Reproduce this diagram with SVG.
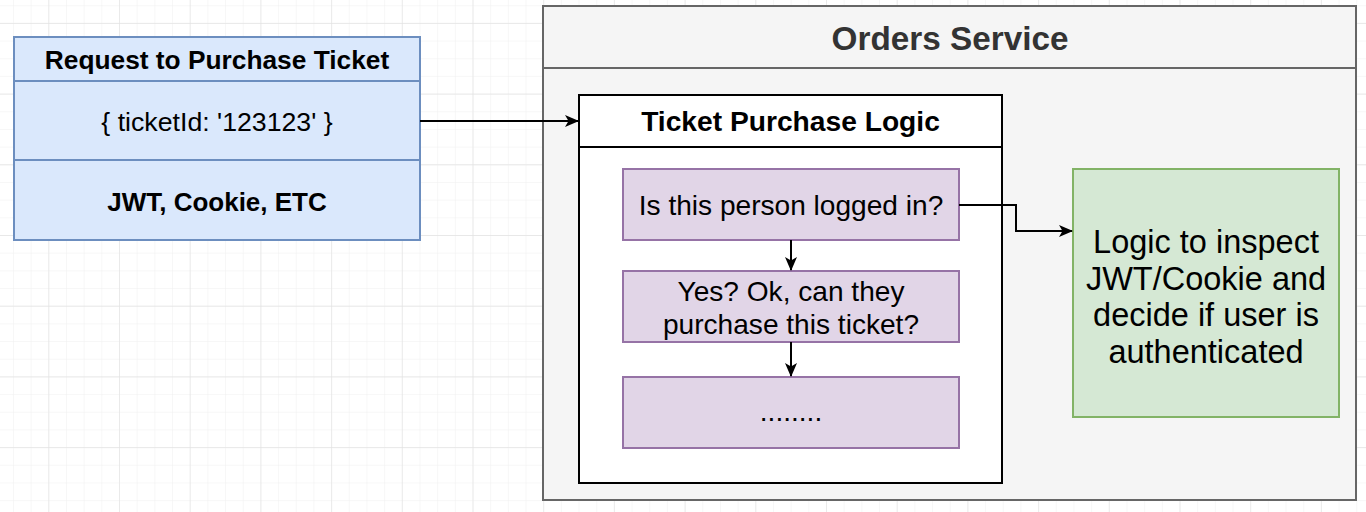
<svg xmlns="http://www.w3.org/2000/svg" width="1366" height="512" viewBox="0 0 1366 512">
  <style>
    text { font-family: "Liberation Sans", Arial, sans-serif; fill: #000; text-anchor: middle; }
    .b { font-weight: bold; }
    .blue { fill: #dae8fc; stroke: #6c8ebf; stroke-width: 2; }
    .purple { fill: #e1d5e7; stroke: #9673a6; stroke-width: 2; }
    .green { fill: #d5e8d4; stroke: #82b366; stroke-width: 2; }
    .edge { fill: none; stroke: #000; stroke-width: 2; }
  </style>
  <defs>
    <pattern id="minor" width="17.675" height="17.675" patternUnits="userSpaceOnUse" x="48.3" y="22.9">
      <path d="M 0 0 L 17.675 0 M 0 0 L 0 17.675" fill="none" stroke="#efefef" stroke-width="1"/>
    </pattern>
    <pattern id="major" width="70.7" height="70.7" patternUnits="userSpaceOnUse" x="48.3" y="22.9">
      <path d="M 0 0 L 70.7 0 M 0 0 L 0 70.7" fill="none" stroke="#e3e3e3" stroke-width="1.3"/>
    </pattern>
    <marker id="arrow" viewBox="0 0 14 14" refX="13" refY="7" markerWidth="14" markerHeight="14" markerUnits="userSpaceOnUse" orient="auto">
      <path d="M 0 1 L 14 7 L 0 13 L 3.5 7 Z" fill="#000"/>
    </marker>
  </defs>

  <rect width="1366" height="512" fill="#ffffff"/>
  <rect width="1366" height="512" fill="url(#minor)"/>
  <rect width="1366" height="512" fill="url(#major)"/>

  <g id="request">
    <rect class="blue" x="14" y="37" width="406" height="203"/>
    <line x1="14" y1="81" x2="420" y2="81" stroke="#6c8ebf" stroke-width="2"/>
    <line x1="14" y1="160" x2="420" y2="160" stroke="#6c8ebf" stroke-width="2"/>
    <text class="b" x="217" y="68.5" font-size="26.3">Request to Purchase Ticket</text>
    <text x="217" y="130.5" font-size="26.7">{ ticketId: '123123' }</text>
    <text class="b" x="217" y="210.5" font-size="26">JWT, Cookie, ETC</text>
  </g>

  <g id="orders-service">
    <rect x="543" y="6" width="813" height="494" fill="#f5f5f5" stroke="#666666" stroke-width="2"/>
    <line x1="543" y1="68" x2="1356" y2="68" stroke="#666666" stroke-width="2"/>
    <text class="b" x="950" y="50" font-size="33.3" style="fill:#333333">Orders Service</text>
  </g>

  <g id="ticket-purchase-logic">
    <rect x="579" y="95" width="423" height="388" fill="#ffffff" stroke="#000" stroke-width="2"/>
    <line x1="579" y1="147" x2="1002" y2="147" stroke="#000" stroke-width="2"/>
    <text class="b" x="790.5" y="131" font-size="28.2">Ticket Purchase Logic</text>
  </g>

  <g id="logged-in">
    <rect class="purple" x="623" y="169" width="336" height="71"/>
    <text x="791" y="215" font-size="28.1">Is this person logged in?</text>
  </g>

  <g id="can-purchase">
    <rect class="purple" x="623" y="271" width="336" height="71"/>
    <text x="791" y="301" font-size="28.1">Yes? Ok, can they</text>
    <text x="791" y="334" font-size="28.1">purchase this ticket?</text>
  </g>

  <g id="more">
    <rect class="purple" x="623" y="377" width="336" height="71"/>
    <text x="791" y="421" font-size="28.1">........</text>
  </g>

  <g id="auth-logic">
    <rect class="green" x="1073" y="169" width="266" height="248"/>
    <text x="1206" y="253" font-size="32.5">Logic to inspect</text>
    <text x="1206" y="289.5" font-size="32.5">JWT/Cookie and</text>
    <text x="1206" y="326" font-size="32.5">decide if user is</text>
    <text x="1206" y="362.5" font-size="32.5">authenticated</text>
  </g>

  <g id="connectors">
    <path class="edge" d="M 420 121 L 578 121" marker-end="url(#arrow)"/>
    <path class="edge" d="M 959 205 L 1016 205 L 1016 231 L 1072 231" marker-end="url(#arrow)"/>
    <path class="edge" d="M 791 240 L 791 270" marker-end="url(#arrow)"/>
    <path class="edge" d="M 791 342 L 791 376" marker-end="url(#arrow)"/>
  </g>
</svg>
